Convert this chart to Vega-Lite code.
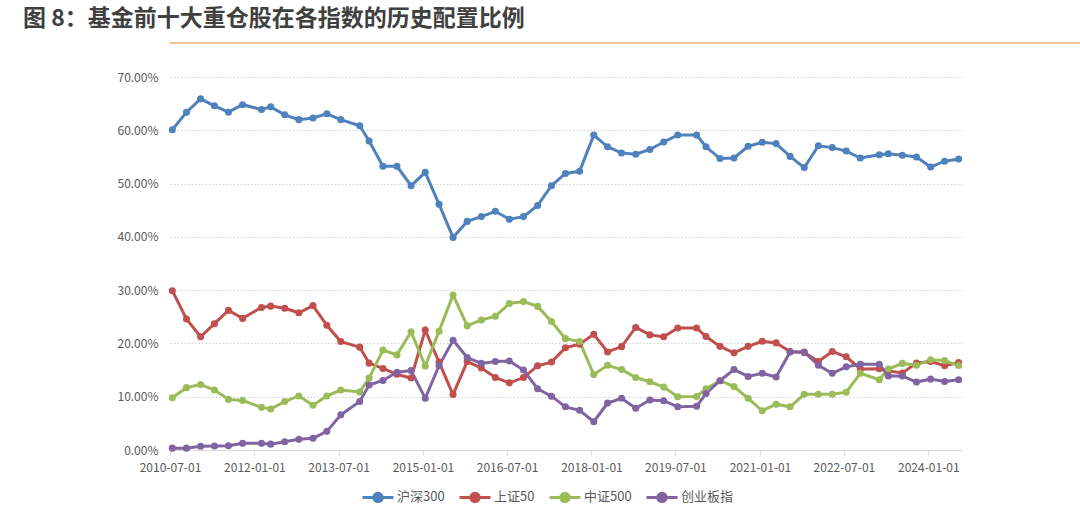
{
  "$schema": "https://vega.github.io/schema/vega-lite/v6.json",
  "background": "white",
  "padding": {"left": 8, "top": 8, "right": 0, "bottom": 0},
  "autosize": {"type": "pad"},
  "title": {"text": "图 8：基金前十大重仓股在各指数的历史配置比例", "anchor": "start", "dx": 15, "fontSize": 23, "fontWeight": "bold", "color": "#404040", "font": "Noto Sans CJK SC", "offset": 11},
  "spacing": 27,
  "datasets": {
    "main": [
      {"date":"2010-07-16","series":"沪深300","value":0.601},{"date":"2010-10-16","series":"沪深300","value":0.634},{"date":"2011-01-16","series":"沪深300","value":0.659},{"date":"2011-04-16","series":"沪深300","value":0.646},{"date":"2011-07-16","series":"沪深300","value":0.634},{"date":"2011-10-16","series":"沪深300","value":0.648},{"date":"2012-02-16","series":"沪深300","value":0.639},{"date":"2012-04-16","series":"沪深300","value":0.644},{"date":"2012-07-16","series":"沪深300","value":0.629},{"date":"2012-10-16","series":"沪深300","value":0.620},{"date":"2013-01-16","series":"沪深300","value":0.623},{"date":"2013-04-16","series":"沪深300","value":0.631},{"date":"2013-07-16","series":"沪深300","value":0.620},{"date":"2013-11-16","series":"沪深300","value":0.6085},{"date":"2014-01-16","series":"沪深300","value":0.580},{"date":"2014-04-16","series":"沪深300","value":0.5325},{"date":"2014-07-16","series":"沪深300","value":0.5325},{"date":"2014-10-16","series":"沪深300","value":0.496},{"date":"2015-01-16","series":"沪深300","value":0.521},{"date":"2015-04-16","series":"沪深300","value":0.461},{"date":"2015-07-16","series":"沪深300","value":0.399},{"date":"2015-10-16","series":"沪深300","value":0.429},{"date":"2016-01-16","series":"沪深300","value":0.438},{"date":"2016-04-16","series":"沪深300","value":0.448},{"date":"2016-07-16","series":"沪深300","value":0.433},{"date":"2016-10-16","series":"沪深300","value":0.438},{"date":"2017-01-16","series":"沪深300","value":0.459},{"date":"2017-04-16","series":"沪深300","value":0.496},{"date":"2017-07-16","series":"沪深300","value":0.519},{"date":"2017-10-16","series":"沪深300","value":0.523},{"date":"2018-01-16","series":"沪深300","value":0.591},{"date":"2018-04-16","series":"沪深300","value":0.569},{"date":"2018-07-16","series":"沪深300","value":0.5575},{"date":"2018-10-16","series":"沪深300","value":0.555},{"date":"2019-01-16","series":"沪深300","value":0.564},{"date":"2019-04-16","series":"沪深300","value":0.578},{"date":"2019-07-16","series":"沪深300","value":0.591},{"date":"2019-11-16","series":"沪深300","value":0.591},{"date":"2020-01-16","series":"沪深300","value":0.569},{"date":"2020-04-16","series":"沪深300","value":0.547},{"date":"2020-07-16","series":"沪深300","value":0.548},{"date":"2020-10-16","series":"沪深300","value":0.570},{"date":"2021-01-16","series":"沪深300","value":0.5775},{"date":"2021-04-16","series":"沪深300","value":0.575},{"date":"2021-07-16","series":"沪深300","value":0.551},{"date":"2021-10-16","series":"沪深300","value":0.530},{"date":"2022-01-16","series":"沪深300","value":0.571},{"date":"2022-04-16","series":"沪深300","value":0.5675},{"date":"2022-07-16","series":"沪深300","value":0.561},{"date":"2022-10-16","series":"沪深300","value":0.548},{"date":"2023-02-16","series":"沪深300","value":0.554},{"date":"2023-04-16","series":"沪深300","value":0.556},{"date":"2023-07-16","series":"沪深300","value":0.553},{"date":"2023-10-16","series":"沪深300","value":0.550},{"date":"2024-01-16","series":"沪深300","value":0.531},{"date":"2024-04-16","series":"沪深300","value":0.542},{"date":"2024-07-16","series":"沪深300","value":0.546},
      {"date":"2010-07-16","series":"上证50","value":0.299},{"date":"2010-10-16","series":"上证50","value":0.246},{"date":"2011-01-16","series":"上证50","value":0.2125},{"date":"2011-04-16","series":"上证50","value":0.237},{"date":"2011-07-16","series":"上证50","value":0.262},{"date":"2011-10-16","series":"上证50","value":0.247},{"date":"2012-02-16","series":"上证50","value":0.2675},{"date":"2012-04-16","series":"上证50","value":0.270},{"date":"2012-07-16","series":"上证50","value":0.266},{"date":"2012-10-16","series":"上证50","value":0.2575},{"date":"2013-01-16","series":"上证50","value":0.271},{"date":"2013-04-16","series":"上证50","value":0.234},{"date":"2013-07-16","series":"上证50","value":0.2035},{"date":"2013-11-16","series":"上证50","value":0.193},{"date":"2014-01-16","series":"上证50","value":0.163},{"date":"2014-04-16","series":"上证50","value":0.153},{"date":"2014-07-16","series":"上证50","value":0.142},{"date":"2014-10-16","series":"上证50","value":0.135},{"date":"2015-01-16","series":"上证50","value":0.225},{"date":"2015-04-16","series":"上证50","value":0.165},{"date":"2015-07-16","series":"上证50","value":0.104},{"date":"2015-10-16","series":"上证50","value":0.166},{"date":"2016-01-16","series":"上证50","value":0.154},{"date":"2016-04-16","series":"上证50","value":0.136},{"date":"2016-07-16","series":"上证50","value":0.126},{"date":"2016-10-16","series":"上证50","value":0.136},{"date":"2017-01-16","series":"上证50","value":0.158},{"date":"2017-04-16","series":"上证50","value":0.165},{"date":"2017-07-16","series":"上证50","value":0.192},{"date":"2017-10-16","series":"上证50","value":0.1985},{"date":"2018-01-16","series":"上证50","value":0.217},{"date":"2018-04-16","series":"上证50","value":0.184},{"date":"2018-07-16","series":"上证50","value":0.194},{"date":"2018-10-16","series":"上证50","value":0.230},{"date":"2019-01-16","series":"上证50","value":0.216},{"date":"2019-04-16","series":"上证50","value":0.2125},{"date":"2019-07-16","series":"上证50","value":0.229},{"date":"2019-11-16","series":"上证50","value":0.229},{"date":"2020-01-16","series":"上证50","value":0.213},{"date":"2020-04-16","series":"上证50","value":0.1945},{"date":"2020-07-16","series":"上证50","value":0.1825},{"date":"2020-10-16","series":"上证50","value":0.1945},{"date":"2021-01-16","series":"上证50","value":0.204},{"date":"2021-04-16","series":"上证50","value":0.201},{"date":"2021-07-16","series":"上证50","value":0.185},{"date":"2021-10-16","series":"上证50","value":0.183},{"date":"2022-01-16","series":"上证50","value":0.166},{"date":"2022-04-16","series":"上证50","value":0.185},{"date":"2022-07-16","series":"上证50","value":0.175},{"date":"2022-10-16","series":"上证50","value":0.152},{"date":"2023-02-16","series":"上证50","value":0.1525},{"date":"2023-04-16","series":"上证50","value":0.1485},{"date":"2023-07-16","series":"上证50","value":0.1445},{"date":"2023-10-16","series":"上证50","value":0.163},{"date":"2024-01-16","series":"上证50","value":0.166},{"date":"2024-04-16","series":"上证50","value":0.158},{"date":"2024-07-16","series":"上证50","value":0.164},
      {"date":"2010-07-16","series":"中证500","value":0.098},{"date":"2010-10-16","series":"中证500","value":0.117},{"date":"2011-01-16","series":"中证500","value":0.123},{"date":"2011-04-16","series":"中证500","value":0.1125},{"date":"2011-07-16","series":"中证500","value":0.095},{"date":"2011-10-16","series":"中证500","value":0.093},{"date":"2012-02-16","series":"中证500","value":0.080},{"date":"2012-04-16","series":"中证500","value":0.077},{"date":"2012-07-16","series":"中证500","value":0.091},{"date":"2012-10-16","series":"中证500","value":0.1015},{"date":"2013-01-16","series":"中证500","value":0.084},{"date":"2013-04-16","series":"中证500","value":0.1015},{"date":"2013-07-16","series":"中证500","value":0.1125},{"date":"2013-11-16","series":"中证500","value":0.109},{"date":"2014-01-16","series":"中证500","value":0.135},{"date":"2014-04-16","series":"中证500","value":0.1875},{"date":"2014-07-16","series":"中证500","value":0.1785},{"date":"2014-10-16","series":"中证500","value":0.222},{"date":"2015-01-16","series":"中证500","value":0.1575},{"date":"2015-04-16","series":"中证500","value":0.223},{"date":"2015-07-16","series":"中证500","value":0.291},{"date":"2015-10-16","series":"中证500","value":0.233},{"date":"2016-01-16","series":"中证500","value":0.244},{"date":"2016-04-16","series":"中证500","value":0.251},{"date":"2016-07-16","series":"中证500","value":0.275},{"date":"2016-10-16","series":"中证500","value":0.2785},{"date":"2017-01-16","series":"中证500","value":0.2695},{"date":"2017-04-16","series":"中证500","value":0.241},{"date":"2017-07-16","series":"中证500","value":0.209},{"date":"2017-10-16","series":"中证500","value":0.2035},{"date":"2018-01-16","series":"中证500","value":0.1415},{"date":"2018-04-16","series":"中证500","value":0.159},{"date":"2018-07-16","series":"中证500","value":0.151},{"date":"2018-10-16","series":"中证500","value":0.136},{"date":"2019-01-16","series":"中证500","value":0.128},{"date":"2019-04-16","series":"中证500","value":0.118},{"date":"2019-07-16","series":"中证500","value":0.100},{"date":"2019-11-16","series":"中证500","value":0.1005},{"date":"2020-01-16","series":"中证500","value":0.115},{"date":"2020-04-16","series":"中证500","value":0.130},{"date":"2020-07-16","series":"中证500","value":0.119},{"date":"2020-10-16","series":"中证500","value":0.097},{"date":"2021-01-16","series":"中证500","value":0.0735},{"date":"2021-04-16","series":"中证500","value":0.086},{"date":"2021-07-16","series":"中证500","value":0.081},{"date":"2021-10-16","series":"中证500","value":0.1045},{"date":"2022-01-16","series":"中证500","value":0.1045},{"date":"2022-04-16","series":"中证500","value":0.1045},{"date":"2022-07-16","series":"中证500","value":0.1085},{"date":"2022-10-16","series":"中证500","value":0.144},{"date":"2023-02-16","series":"中证500","value":0.132},{"date":"2023-04-16","series":"中证500","value":0.152},{"date":"2023-07-16","series":"中证500","value":0.1625},{"date":"2023-10-16","series":"中证500","value":0.159},{"date":"2024-01-16","series":"中证500","value":0.1695},{"date":"2024-04-16","series":"中证500","value":0.168},{"date":"2024-07-16","series":"中证500","value":0.1585},
      {"date":"2010-07-16","series":"创业板指","value":0.0035},{"date":"2010-10-16","series":"创业板指","value":0.0035},{"date":"2011-01-16","series":"创业板指","value":0.007},{"date":"2011-04-16","series":"创业板指","value":0.0075},{"date":"2011-07-16","series":"创业板指","value":0.008},{"date":"2011-10-16","series":"创业板指","value":0.0125},{"date":"2012-02-16","series":"创业板指","value":0.0125},{"date":"2012-04-16","series":"创业板指","value":0.011},{"date":"2012-07-16","series":"创业板指","value":0.0156},{"date":"2012-10-16","series":"创业板指","value":0.020},{"date":"2013-01-16","series":"创业板指","value":0.022},{"date":"2013-04-16","series":"创业板指","value":0.035},{"date":"2013-07-16","series":"创业板指","value":0.066},{"date":"2013-11-16","series":"创业板指","value":0.091},{"date":"2014-01-16","series":"创业板指","value":0.122},{"date":"2014-04-16","series":"创业板指","value":0.1305},{"date":"2014-07-16","series":"创业板指","value":0.146},{"date":"2014-10-16","series":"创业板指","value":0.149},{"date":"2015-01-16","series":"创业板指","value":0.097},{"date":"2015-04-16","series":"创业板指","value":0.1585},{"date":"2015-07-16","series":"创业板指","value":0.206},{"date":"2015-10-16","series":"创业板指","value":0.1735},{"date":"2016-01-16","series":"创业板指","value":0.1625},{"date":"2016-04-16","series":"创业板指","value":0.166},{"date":"2016-07-16","series":"创业板指","value":0.167},{"date":"2016-10-16","series":"创业板指","value":0.150},{"date":"2017-01-16","series":"创业板指","value":0.115},{"date":"2017-04-16","series":"创业板指","value":0.101},{"date":"2017-07-16","series":"创业板指","value":0.081},{"date":"2017-10-16","series":"创业板指","value":0.0745},{"date":"2018-01-16","series":"创业板指","value":0.053},{"date":"2018-04-16","series":"创业板指","value":0.088},{"date":"2018-07-16","series":"创业板指","value":0.097},{"date":"2018-10-16","series":"创业板指","value":0.0785},{"date":"2019-01-16","series":"创业板指","value":0.094},{"date":"2019-04-16","series":"创业板指","value":0.0925},{"date":"2019-07-16","series":"创业板指","value":0.081},{"date":"2019-11-16","series":"创业板指","value":0.082},{"date":"2020-01-16","series":"创业板指","value":0.106},{"date":"2020-04-16","series":"创业板指","value":0.130},{"date":"2020-07-16","series":"创业板指","value":0.151},{"date":"2020-10-16","series":"创业板指","value":0.138},{"date":"2021-01-16","series":"创业板指","value":0.144},{"date":"2021-04-16","series":"创业板指","value":0.137},{"date":"2021-07-16","series":"创业板指","value":0.184},{"date":"2021-10-16","series":"创业板指","value":0.184},{"date":"2022-01-16","series":"创业板指","value":0.159},{"date":"2022-04-16","series":"创业板指","value":0.144},{"date":"2022-07-16","series":"创业板指","value":0.156},{"date":"2022-10-16","series":"创业板指","value":0.161},{"date":"2023-02-16","series":"创业板指","value":0.161},{"date":"2023-04-16","series":"创业板指","value":0.139},{"date":"2023-07-16","series":"创业板指","value":0.139},{"date":"2023-10-16","series":"创业板指","value":0.1275},{"date":"2024-01-16","series":"创业板指","value":0.133},{"date":"2024-04-16","series":"创业板指","value":0.1285},{"date":"2024-07-16","series":"创业板指","value":0.132}
    ]
  },
  "vconcat": [
    {
      "width": 1072,
      "height": 1,
      "data": {"values": [{"k": 0}]},
      "mark": {"type": "rule", "color": "#F4AE7E", "strokeWidth": 1.5},
      "encoding": {"y": {"datum": 0, "type": "quantitative", "axis": null}}
    },
    {
      "width": 792,
      "height": 373,
      "data": {"name": "main"},
      "encoding": {
        "x": {
          "field": "date", "type": "temporal",
          "scale": {"type": "utc", "domain": [{"year": 2010, "month": 7, "date": 1, "utc": true}, {"year": 2024, "month": 8, "date": 7, "utc": true}]},
          "axis": {
            "title": null,
            "values": [
              {"year": 2010, "month": 7, "date": 1, "utc": true},
              {"year": 2012, "month": 1, "date": 1, "utc": true},
              {"year": 2013, "month": 7, "date": 1, "utc": true},
              {"year": 2015, "month": 1, "date": 1, "utc": true},
              {"year": 2016, "month": 7, "date": 1, "utc": true},
              {"year": 2018, "month": 1, "date": 1, "utc": true},
              {"year": 2019, "month": 7, "date": 1, "utc": true},
              {"year": 2021, "month": 1, "date": 1, "utc": true},
              {"year": 2022, "month": 7, "date": 1, "utc": true},
              {"year": 2024, "month": 1, "date": 1, "utc": true}
            ],
            "format": "%Y-%m-%d",
            "grid": false,
            "domainColor": "#D9D9D9",
            "domainWidth": 1.2,
            "tickColor": "#D9D9D9",
            "tickSize": 5,
            "labelPadding": 7,
            "labelFontSize": 12,
            "labelColor": "#595959",
            "labelFlush": false,
            "labelOverlap": false
          }
        },
        "y": {
          "field": "value", "type": "quantitative",
          "scale": {"domain": [0, 0.7]},
          "axis": {
            "title": null,
            "values": [0, 0.1, 0.2, 0.3, 0.4, 0.5, 0.6, 0.7],
            "format": ".2%",
            "domain": false,
            "ticks": false,
            "grid": true,
            "gridColor": "#D0D0D0",
            "gridDash": [1.5, 2],
            "gridWidth": 1,
            "labelPadding": 12,
            "labelFontSize": 12,
            "labelColor": "#595959",
            "minExtent": 162,
            "maxExtent": 162
          }
        },
        "color": {
          "field": "series", "type": "nominal",
          "scale": {"domain": ["沪深300", "上证50", "中证500", "创业板指"], "range": ["#4F81BD", "#C0504D", "#9BBB59", "#8064A2"]},
          "legend": {
            "orient": "none",
            "legendX": 191,
            "legendY": 437,
            "direction": "horizontal",
            "title": null,
            "symbolType": "M-1,0L1,0M-0.27,0A0.27,0.27,0,1,1,0.27,0A0.27,0.27,0,1,1,-0.27,0Z",
            "symbolSize": 961,
            "symbolStrokeWidth": 3,
            "labelFontSize": 13,
            "labelColor": "#595959",
            "labelOffset": 2,
            "columnPadding": 8,
            "encode": {"symbols": {"update": {"fill": {"scale": "color", "field": "value"}, "stroke": {"scale": "color", "field": "value"}, "opacity": {"value": 1}}}}
          }
        }
      },
      "layer": [
        {"mark": {"type": "line", "strokeWidth": 3}},
        {"mark": {"type": "point", "filled": true, "size": 50, "opacity": 1}}
      ]
    }
  ],
  "config": {
    "view": {"stroke": null},
    "font": "Noto Sans CJK SC"
  }
}
